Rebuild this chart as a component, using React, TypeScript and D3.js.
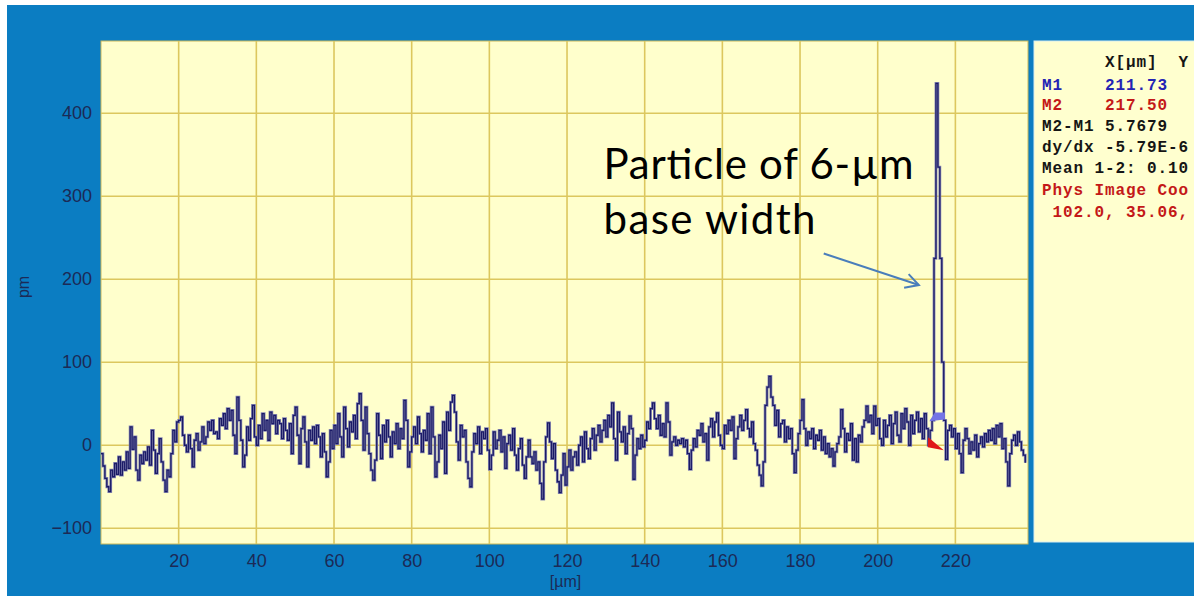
import React, { useRef, useEffect } from "react";
import * as d3 from "d3";

// height profile, one sample every 0.5 µm (pm)
const xStep = 0.5;
const profile0to40 = [
  -10, -25, -40, -50, -56, -30, -38, -22, -35, -14, -36, -20, -30, -8, -28, 22, -5, 10, -30, -42,
  -12, -22, -8, -18, -2, -24, 18, -6, -34, -10, 8, -20, -42, -56, -30, -38, -10, 18, 4, 28,
  30, 34, 12, 0, -8, 12, -4, -26, 6, 14, -6, 4, 22, 2, 10, 28, 18, 30, 14, 16,
  8, 32, 24, 38, 20, 44, 30, 42, 12, -10, 58, 30, 6, -26, -12, 22, 6, 32, 48, 10,
];
const profile40to80 = [
  0, 24, 8, 38, 18, 30, 6, 40, 26, 36, 14, 30, 26, 8, 32, 18, 6, 26, -10, 36,
  46, 12, -22, 20, 34, 4, -26, 18, 6, 22, 2, 24, 10, -14, 14, -8, -38, -20, 18, -4,
  24, 2, 38, 10, -14, 46, 20, -2, 28, 16, 36, 8, 50, 62, 30, -6, 46, 14, -10, -30,
  -42, -18, 38, 12, -16, 24, 4, 30, 10, -14, 16, 2, 26, -4, 20, 8, 54, 30, -26, -8,
];
const profile80to120 = [
  10, 22, 2, 34, 14, -8, 18, 6, 38, -10, 46, 10, -38, -20, 12, -4, 28, -34, 40, 18,
  52, 60, 40, 4, -18, 24, 10, 18, -20, -40, -50, -8, 14, 2, 22, -10, 16, 8, 20, -6,
  -29, -12, 16, -4, 6, 18, -8, 10, -28, 2, 12, -6, 20, -12, -30, -4, 8, -24, -40, -14,
  6, -14, -22, -8, -30, -20, -46, -65, -20, 10, 27, 4, -16, 2, -30, -44, -57, -36, -10, -48,
];
const profile120to160 = [
  -26, -6, -30, -14, -8, -24, 0, 10, -20, 16, -4, -16, 8, 20, -6, 12, 24, 4, 18, 30,
  10, 36, 22, 51, 8, -18, 40, 16, 4, 22, -10, 14, 35, 20, -41, -12, 8, -4, 12, -2,
  6, 28, 20, 44, 51, 32, 20, 36, 12, 26, 10, 51, 28, -12, 4, 10, 0, 6, 2, 8,
  -2, 6, -10, -29, -6, 8, -2, 18, 12, 26, 4, 14, -18, 22, 32, 10, 28, 39, 12, 0,
];
const profile160to200 = [
  -4, 24, 14, 30, 18, 34, -16, 8, 22, 36, 18, 30, 43, 20, 10, 28, 2, -6, -24, -36,
  -49, -20, 48, 70, 83, 58, 48, 24, 42, 10, 26, 30, 4, 22, 8, 20, -10, -33, -6, 14,
  30, 55, 20, 0, 16, 8, 20, -4, 12, 6, 18, -6, 10, -10, 2, -14, -4, -25, -8, 2,
  10, 43, 20, -8, 14, 6, 26, -18, 8, -20, 12, 4, 22, 30, 47, 28, 36, 14, 47, 24,
];
const profile200to238 = [
  32, 8, 0, 30, 10, 24, 36, 2, 26, 40, 12, 4, 38, 20, 44, 28, 0, 36, 14, 30,
  40, 16, 32, 8, 38, 20, 0, 18, 30, 225, 436, 335, 225, 100, 30, -17, 18, 24, 10, 20,
  -4, 14, -10, -33, 6, 20, 8, -10, 4, -6, 12, -14, 2, 10, -2, 14, 4, 18, 6, 20,
  2, 24, 10, 26, -4, 8, -20, -49, -10, 6, 12, 0, 16, 4, -6, -12, -21,
];
const profile = [
  ...profile0to40, ...profile40to80, ...profile80to120,
  ...profile120to160, ...profile160to200, ...profile200to238,
];

const xTicks = [20, 40, 60, 80, 100, 120, 140, 160, 180, 200, 220];
const yTicks = [-100, 0, 100, 200, 300, 400];

// cursor markers (µm, pm)
const m1Marker = [[213.3, 29], [214.7, 39.5], [217.3, 39.5], [217.3, 31]];
const m2Marker = [[213.0, 9.6], [212.9, -2.4], [217.0, -6]];

// readout panel lines
const readoutLines = ["      X[µm]  Y", "M1    211.73", "M2    217.50", "M2-M1 5.7679",
  "dy/dx -5.79E-6", "Mean 1-2: 0.10", "Phys Image Coo", " 102.0, 35.06,"];
const readoutColors = ["#151515", "#2424b4", "#c41818", "#151515", "#151515", "#151515", "#c41818", "#c41818"];

export default function App() {
  const svgRef = useRef(null);

  useEffect(() => {
    const W = 1194, H = 596;
    const svg = d3.select(svgRef.current);
    svg.selectAll("*").remove();
    svg.attr("width", W).attr("height", H);

    const left = 101, top = 41, right = 1028, bottom = 544;
    const x = d3.scaleLinear().domain([0, 238.7]).range([left, right]);
    const y = d3.scaleLinear().domain([-119, 487]).range([bottom, top]);

    // background
    svg.append("rect").attr("width", W).attr("height", H).attr("fill", "#ffffff");
    svg.append("rect").attr("x", 7).attr("y", 5).attr("width", W - 7).attr("height", H - 5).attr("fill", "#0b7dc2");

    // plot area
    svg.append("rect").attr("x", left).attr("y", top).attr("width", right - left).attr("height", bottom - top)
      .attr("fill", "#ffffcc").attr("stroke", "#c9b85a").attr("stroke-width", 1);

    // grid
    const grid = svg.append("g").attr("stroke", "#dcc75e").attr("stroke-width", 1.6);
    grid.selectAll(".gx").data(xTicks).enter().append("line")
      .attr("x1", d => x(d)).attr("x2", d => x(d)).attr("y1", top).attr("y2", bottom);
    grid.selectAll(".gy").data(yTicks).enter().append("line")
      .attr("y1", d => y(d)).attr("y2", d => y(d)).attr("x1", left).attr("x2", right);

    // axes
    const yAxis = d3.axisLeft(y).tickValues(yTicks).tickSize(0).tickPadding(9);
    const gy = svg.append("g").attr("transform", `translate(${left},0)`).call(yAxis);
    const xAxis = d3.axisBottom(x).tickValues(xTicks).tickSize(0).tickPadding(10);
    const gx = svg.append("g").attr("transform", `translate(0,${bottom})`).call(xAxis);
    [gx, gy].forEach(g => {
      g.select(".domain").remove();
      g.selectAll("text").attr("fill", "#1c2a56").style("font-family", "'Liberation Sans', Arial, sans-serif").style("font-size", "18px");
    });

    svg.append("text").attr("x", (left + right) / 2 + 1).attr("y", 587).attr("text-anchor", "middle")
      .attr("fill", "#1c2a56").style("font-family", "'Liberation Sans', Arial, sans-serif").style("font-size", "16px").text("[µm]");
    svg.append("text").attr("transform", "translate(29,287) rotate(-90)").attr("text-anchor", "middle")
      .attr("fill", "#1c2a56").style("font-family", "'Liberation Sans', Arial, sans-serif").style("font-size", "16px").text("pm");

    // profile line, stepped like the instrument trace
    svg.append("clipPath").attr("id", "plotclip").append("rect")
      .attr("x", left).attr("y", top).attr("width", right - left).attr("height", bottom - top);
    const pts = profile.map((v, i) => [i * xStep, v]);
    const line = d3.line().curve(d3.curveStepAfter).x(d => x(d[0])).y(d => y(d[1]));
    const pg = svg.append("g").attr("clip-path", "url(#plotclip)");
    pg.append("path").datum(pts).attr("d", line).attr("fill", "none")
      .attr("stroke", "#8888b4").attr("stroke-width", 2.8);
    pg.append("path").datum(pts).attr("d", line).attr("fill", "none")
      .attr("stroke", "#1a1a66").attr("stroke-width", 1.3);

    // cursor markers
    const poly = d3.line().x(d => x(d[0])).y(d => y(d[1]));
    pg.append("path").attr("d", poly(m1Marker) + "Z").attr("fill", "#7474e6");
    pg.append("path").attr("d", poly(m2Marker) + "Z").attr("fill", "#e01818");

    // annotation
    const ann = svg.append("g").style("font-family", "Lato, 'Open Sans', sans-serif").style("font-size", "42px").attr("fill", "#000");
    ann.append("text").attr("x", x(129.4)).attr("y", y(321)).attr("textLength", 310).text("Particle of 6-µm");
    ann.append("text").attr("x", x(129.4)).attr("y", y(255)).attr("textLength", 212).text("base width");
    const a0 = [x(186.1), y(231)], a1 = [x(210.6), y(193)];
    const ang = Math.atan2(a1[1] - a0[1], a1[0] - a0[0]);
    const hl = 15, hw = 0.5;
    svg.append("line").attr("x1", a0[0]).attr("y1", a0[1]).attr("x2", a1[0]).attr("y2", a1[1])
      .attr("stroke", "#4a7ebb").attr("stroke-width", 2);
    svg.append("path")
      .attr("d", `M${a1[0] - hl * Math.cos(ang - hw)},${a1[1] - hl * Math.sin(ang - hw)}L${a1[0]},${a1[1]}L${a1[0] - hl * Math.cos(ang + hw)},${a1[1] - hl * Math.sin(ang + hw)}`)
      .attr("fill", "none").attr("stroke", "#4a7ebb").attr("stroke-width", 2);

    // readout panel
    svg.append("rect").attr("x", 1034).attr("y", 41).attr("width", 170).attr("height", 501)
      .attr("fill", "#ffffcf").attr("stroke", "#d8eef0").attr("stroke-width", 1);
    const rg = svg.append("g").style("font-family", "'Liberation Mono', 'Courier New', monospace")
      .style("font-size", "16px").style("font-weight", "bold").style("letter-spacing", "0.9px");
    rg.selectAll("text").data(readoutLines).enter().append("text")
      .attr("x", 1042).attr("y", (d, i) => [67, 90, 110, 131, 152, 173, 195, 217][i])
      .attr("fill", (d, i) => readoutColors[i]).text(d => d.replace(/ /g, "\u00a0"));
  }, []);

  return (
    <div>
      <svg ref={svgRef} style={{ position: "absolute", left: 0, top: 0, display: "block" }}></svg>
    </div>
  );
}
